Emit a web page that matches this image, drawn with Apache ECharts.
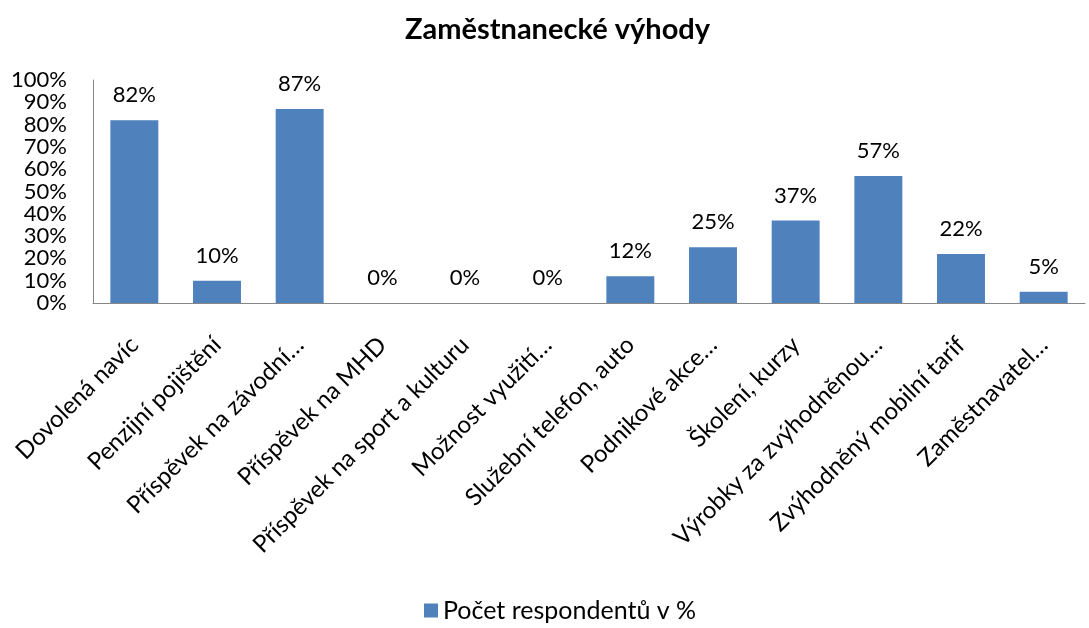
<!DOCTYPE html>
<html><head><meta charset="utf-8">
<script src="https://cdn.jsdelivr.net/npm/echarts@6/dist/echarts.min.js"></script>
<style>html,body{margin:0;padding:0;background:#fff}#c{width:1089px;height:628px}</style>
</head><body><div id="c"></div>
<script>
const categories = ["Dovolená navíc","Penzijní pojištění","Příspěvek na závodní…","Příspěvek na MHD","Příspěvek na sport a kulturu","Možnost využití…","Služební telefon, auto","Podnikové akce…","Školení, kurzy","Výrobky za zvýhodněnou…","Zvýhodněný mobilní tarif","Zaměstnavatel…"];
const values = [82,10,87,0,0,0,12,25,37,57,22,5];
const seriesName = "Počet respondentů v %";
const title = "Zaměstnanecké výhody";
const FONT = "Lato, 'Open Sans', sans-serif";
const chart = echarts.init(document.getElementById('c'));
chart.setOption({
  animation:false,
  textStyle:{fontFamily:FONT},
  title:{text:title,left:400,top:10,textStyle:{fontFamily:FONT,fontSize:29,fontWeight:'bold',color:'#000'}},
  grid:{left:93,right:4,top:80,bottom:325,containLabel:false},
  legend:{bottom:0,left:419,itemWidth:14,itemHeight:14,itemGap:8,icon:'rect',textStyle:{fontFamily:FONT,fontSize:25,color:'#000'},data:[seriesName]},
  xAxis:{type:'category',data:categories,axisLine:{lineStyle:{color:'#868686'}},axisTick:{show:false},
    axisLabel:{rotate:45,interval:0,margin:38,fontSize:24,color:'#000',fontFamily:FONT}},
  yAxis:{type:'value',min:0,max:100,interval:10,splitLine:{show:false},axisLine:{show:true,lineStyle:{color:'#868686'}},axisTick:{show:false},
    axisLabel:{formatter:'{value}%',fontSize:22,color:'#000',margin:26,fontFamily:FONT}},
  series:[{type:'bar',name:seriesName,data:values,barWidth:'58%',itemStyle:{color:'#4F81BD'},
    label:{show:true,position:'top',distance:14,formatter:'{c}%',fontSize:22,color:'#000',fontFamily:FONT}}]
});
</script></body></html>
